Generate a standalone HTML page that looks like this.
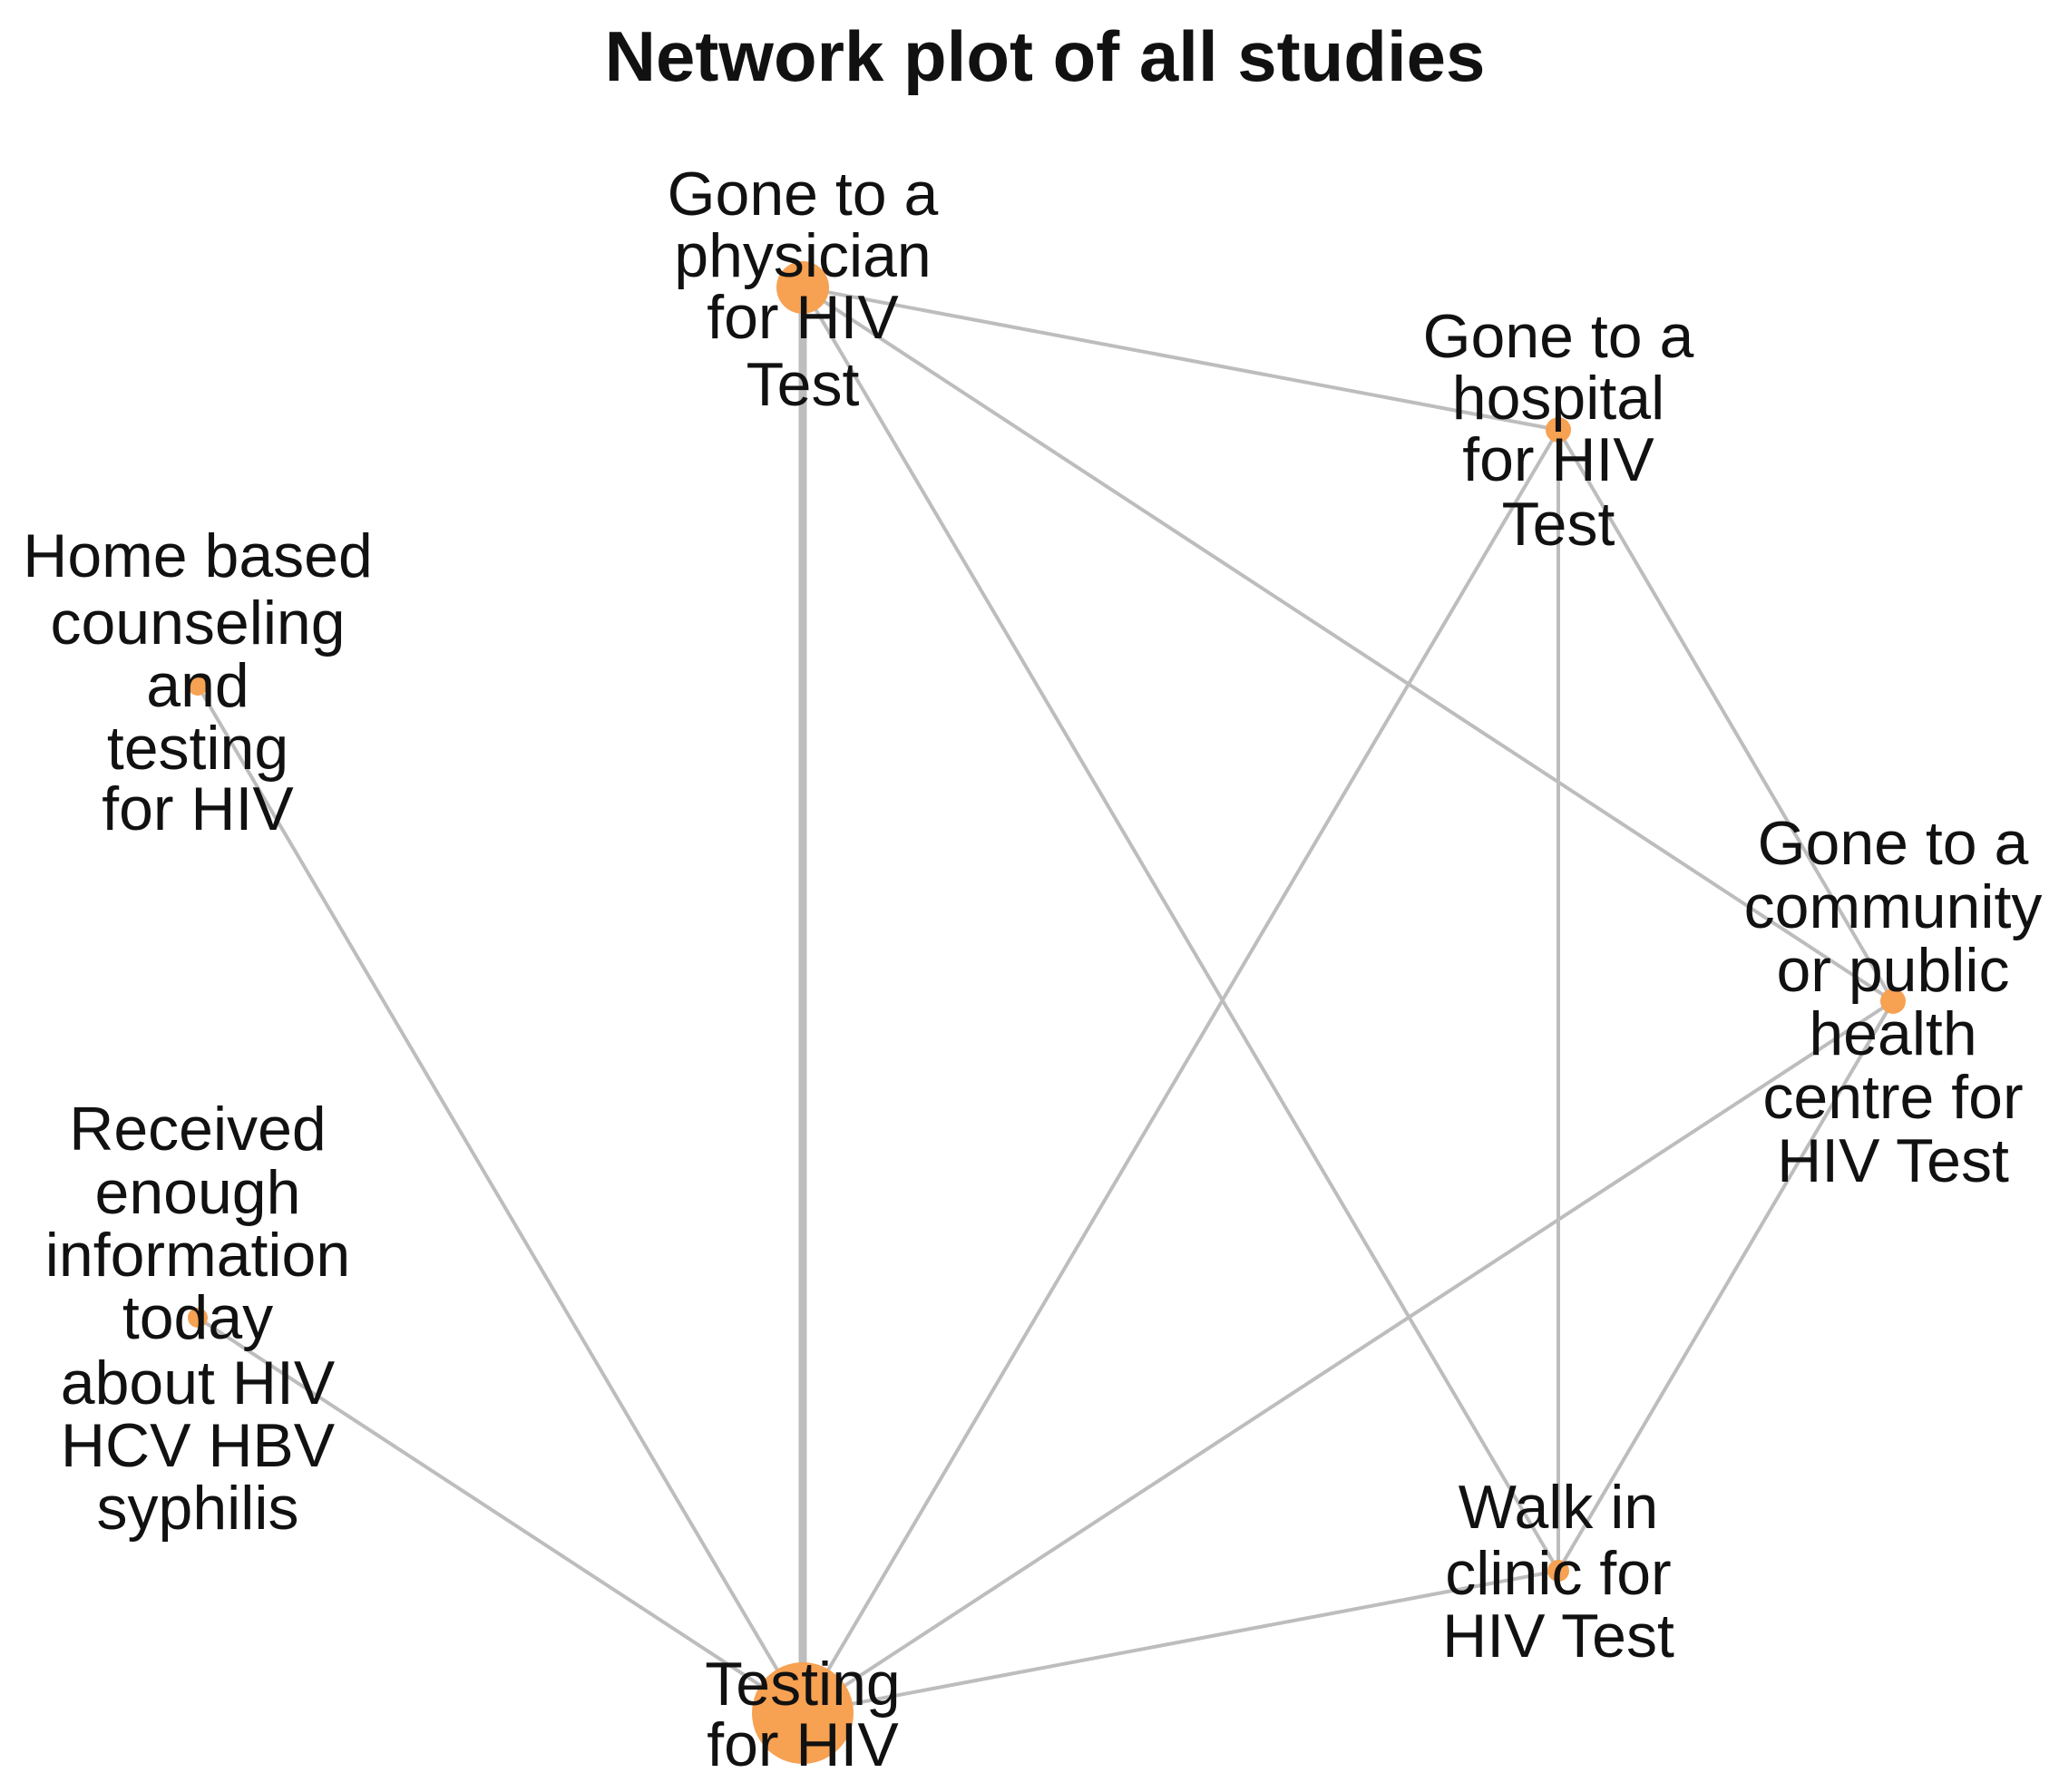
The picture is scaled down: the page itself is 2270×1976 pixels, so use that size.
<!DOCTYPE html>
<html><head><meta charset="utf-8"><style>html,body{margin:0;padding:0;background:#fff}svg{display:block}</style></head><body>
<svg width="2270" height="1976" viewBox="0 0 2270 1976" xmlns="http://www.w3.org/2000/svg" font-family="Liberation Sans, Arial, sans-serif">
<rect width="2270" height="1976" fill="#fff"/>
<text x="1152" y="62" font-size="78" font-weight="bold" text-anchor="middle" dominant-baseline="central" fill="#111">Network plot of all studies</text>
<g stroke="#bdbdbd" stroke-width="4" fill="none">
<line x1="885" y1="317" x2="885" y2="1889" stroke-width="9"/>
<line x1="885" y1="317" x2="1718" y2="474"/>
<line x1="885" y1="317" x2="1718" y2="1732"/>
<line x1="885" y1="317" x2="2087" y2="1104"/>
<line x1="1718" y1="474" x2="885" y2="1889"/>
<line x1="1718" y1="474" x2="1718" y2="1732"/>
<line x1="1718" y1="474" x2="2087" y2="1104"/>
<line x1="218" y1="756" x2="885" y2="1889"/>
<line x1="218" y1="1453" x2="885" y2="1889"/>
<line x1="2087" y1="1104" x2="885" y2="1889"/>
<line x1="2087" y1="1104" x2="1718" y2="1732"/>
<line x1="1718" y1="1732" x2="885" y2="1889"/>
</g>
<g fill="#f7a152">
<circle cx="885" cy="317" r="29"/>
<circle cx="1718" cy="474" r="14"/>
<circle cx="218" cy="756" r="11"/>
<circle cx="2087" cy="1104" r="14"/>
<circle cx="218" cy="1453" r="11"/>
<circle cx="1718" cy="1732" r="12"/>
<circle cx="885" cy="1889" r="56"/>
</g>
<g font-size="68" text-anchor="middle" dominant-baseline="central" fill="#111">
<text x="885" y="214">Gone to a</text><text x="885" y="282">physician</text><text x="885" y="350">for HIV</text><text x="885" y="424">Test</text>
<text x="1718" y="371">Gone to a</text><text x="1718" y="439">hospital</text><text x="1718" y="507">for HIV</text><text x="1718" y="578">Test</text>
<text x="218" y="613">Home based</text><text x="218" y="687">counseling</text><text x="218" y="756">and</text><text x="218" y="825">testing</text><text x="218" y="892">for HIV</text>
<text x="2087" y="930">Gone to a</text><text x="2087" y="1000">community</text><text x="2087" y="1070">or public</text><text x="2087" y="1140">health</text><text x="2087" y="1210">centre for</text><text x="2087" y="1280">HIV Test</text>
<text x="218" y="1245">Received</text><text x="218" y="1315">enough</text><text x="218" y="1384">information</text><text x="218" y="1453">today</text><text x="218" y="1525">about HIV</text><text x="218" y="1594">HCV HBV</text><text x="218" y="1663">syphilis</text>
<text x="1718" y="1662">Walk in</text><text x="1718" y="1735">clinic for</text><text x="1718" y="1804">HIV Test</text>
<text x="885" y="1857">Testing</text><text x="885" y="1924">for HIV</text>
</g>
</svg>
</body></html>
